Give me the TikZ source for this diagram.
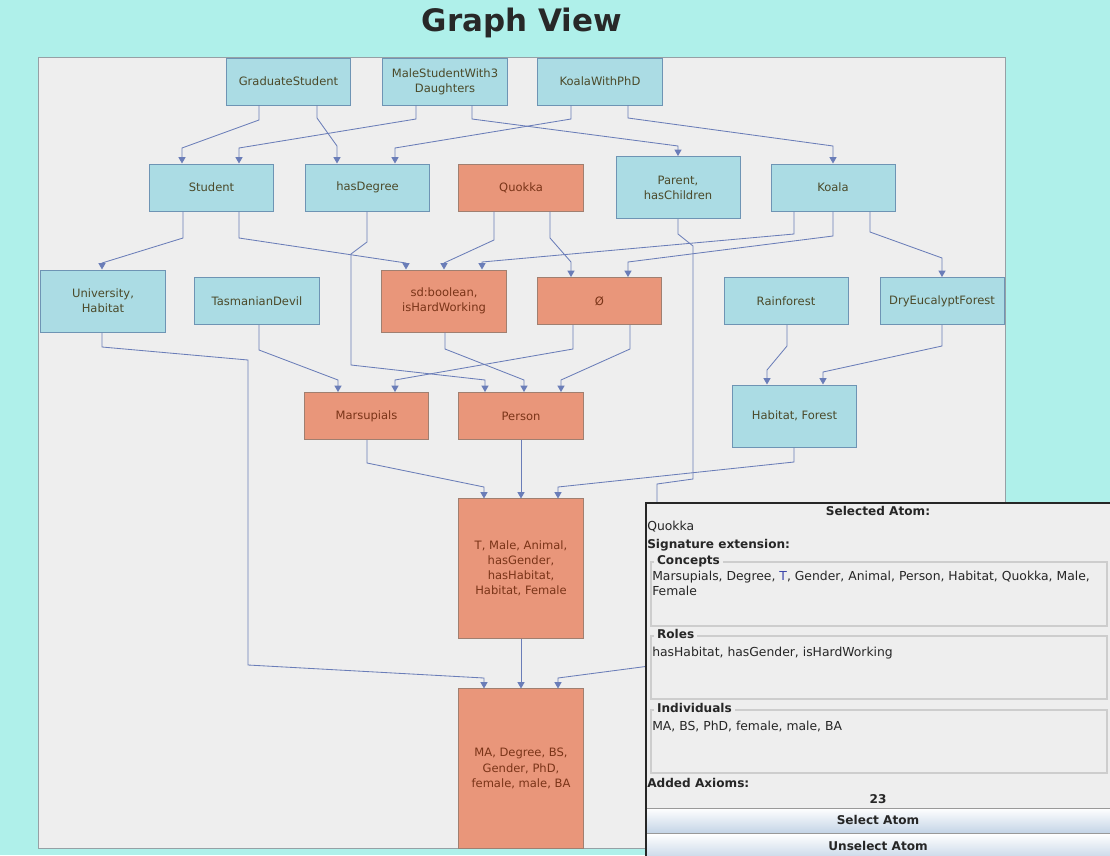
\documentclass[tikz,border=0pt]{standalone}
\usepackage{fontspec}
\setmainfont{DejaVu Sans}
\usetikzlibrary{arrows.meta}
\definecolor{bgcyan}{RGB}{175,240,234}
\definecolor{panelgray}{RGB}{238,238,238}
\definecolor{panelborder}{RGB}{150,160,165}
\definecolor{nodeblue}{RGB}{171,220,228}
\definecolor{blueborder}{RGB}{110,148,180}
\definecolor{nodeorange}{RGB}{233,150,122}
\definecolor{orangeborder}{RGB}{160,127,112}
\definecolor{bluetext}{RGB}{75,74,42}
\definecolor{orangetext}{RGB}{122,52,24}
\definecolor{edgecol}{RGB}{106,125,184}
\definecolor{sectline}{RGB}{205,205,205}
\definecolor{btnblue}{RGB}{196,212,230}
\definecolor{tblue}{RGB}{60,70,170}

\begin{document}
\begin{tikzpicture}[x=0.025cm, y=-0.025cm]
\useasboundingbox (0,0) rectangle (1110,855);
\fill [bgcyan] (0,0) rectangle (1110,855);
\filldraw [fill=panelgray, draw=panelborder, line width=0.6pt] (38,57) rectangle (1005,848);
\node (title) at (522,23) {\fontsize{22}{24}\selectfont\bfseries\color[RGB]{40,40,40}Graph View};

\tikzset{every node/.style={inner sep=0pt, align=center, minimum width=3.1cm, minimum height=1.175cm, font=\fontsize{8.2}{10.8}\selectfont}}
\tikzset{bluebox/.style={fill=nodeblue, draw=blueborder, line width=0.7pt, text=bluetext}}
\tikzset{orangebox/.style={fill=nodeorange, draw=orangeborder, line width=0.7pt, text=orangetext}}
\node [bluebox] (gs) at (288.5,81.5) {GraduateStudent};
\node [bluebox] (msd) at (445,81.5) {MaleStudentWith3\\Daughters};
\node [bluebox] (kwp) at (600,81.5) {KoalaWithPhD};
\node [bluebox] (st) at (211.5,187.5) {Student};
\node [bluebox] (hd) at (367.5,187.5) {hasDegree};
\node [orangebox] (qk) at (521,187.5) {Quokka};
\node [bluebox, minimum height=1.55cm] (par) at (678,187.5) {Parent,\\hasChildren};
\node [bluebox] (ko) at (833,187.5) {Koala};
\node [bluebox, minimum height=1.55cm] (uni) at (103,301) {University,\\Habitat};
\node [bluebox] (tas) at (257,301) {TasmanianDevil};
\node [orangebox, minimum height=1.55cm] (sdb) at (444,301) {sd:boolean,\\isHardWorking};
\node [orangebox] (emp) at (599.5,301) {Ø};
\node [bluebox] (rain) at (786,301) {Rainforest};
\node [bluebox] (dry) at (942,301) {DryEucalyptForest};
\node [orangebox] (mars) at (366.5,416) {Marsupials};
\node [orangebox] (per) at (521,416) {Person};
\node [bluebox, minimum height=1.55cm] (hf) at (794.5,416) {Habitat, Forest};
\node [orangebox, minimum height=3.475cm] (tb) at (521,568.5) {T, Male, Animal,\\hasGender,\\hasHabitat,\\Habitat, Female};
\node [orangebox, minimum height=3.975cm] (ma) at (521,768.5) {MA, Degree, BS,\\Gender, PhD,\\female, male, BA};

\tikzset{mystyle/.style={-{Triangle[width=5pt,length=4.5pt]}, draw=edgecol, line width=0.6pt}}
\draw [mystyle] (gs.south -| 259,0) -- (259,120) -- (182,148) -- (st.north -| 182,0);
\draw [mystyle] (gs.south -| 317,0) -- (317,118) -- (337,146) -- (hd.north -| 337,0);
\draw [mystyle] (msd.south -| 416,0) -- (416,119) -- (239,148) -- (st.north -| 239,0);
\draw [mystyle] (msd.south -| 472,0) -- (472,119) -- (678,146) -- (par.north -| 678,0);
\draw [mystyle] (kwp.south -| 571,0) -- (571,119) -- (395,148) -- (hd.north -| 395,0);
\draw [mystyle] (kwp.south -| 628,0) -- (628,118) -- (833,146) -- (ko.north -| 833,0);

\draw [mystyle] (st.south -| 183,0) -- (183,238) -- (102,263) -- (uni.north -| 102,0);
\draw [mystyle] (st.south -| 239,0) -- (239,238) -- (406,263) -- (sdb.north -| 406,0);
\draw [mystyle] (hd.south -| 367,0) -- (367,242) -- (351,254) -- (351,365) -- (485,380) -- (per.north -| 485,0);
\draw [mystyle] (qk.south -| 494,0) -- (494,240) -- (444,263) -- (sdb.north -| 444,0);
\draw [mystyle] (qk.south -| 550,0) -- (550,238) -- (571,262) -- (emp.north -| 571,0);
\draw [mystyle] (ko.south -| 794,0) -- (794,234) -- (482,262) -- (sdb.north -| 482,0);
\draw [mystyle] (ko.south -| 833,0) -- (833,236) -- (628,262) -- (emp.north -| 628,0);
\draw [mystyle] (ko.south -| 870,0) -- (870,232) -- (942,258) -- (dry.north -| 942,0);
\draw [mystyle] (par.south -| 678,0) -- (678,234) -- (693,246) -- (693,479) -- (657,484) -- (657,665) -- (558,678) -- (ma.north -| 558,0);

\draw [mystyle] (uni.south -| 102,0) -- (102,347) -- (248,360) -- (248,665) -- (484,678) -- (ma.north -| 484,0);
\draw [mystyle] (tas.south -| 259,0) -- (259,350) -- (338,380) -- (mars.north -| 338,0);
\draw [mystyle] (sdb.south -| 445,0) -- (445,349) -- (524,380) -- (per.north -| 524,0);
\draw [mystyle] (emp.south -| 573,0) -- (573,349) -- (395,380) -- (mars.north -| 395,0);
\draw [mystyle] (emp.south -| 630,0) -- (630,349) -- (561,380) -- (per.north -| 561,0);
\draw [mystyle] (rain.south -| 787,0) -- (787,346) -- (767,370) -- (hf.north -| 767,0);
\draw [mystyle] (dry.south -| 942,0) -- (942,346) -- (823,372) -- (hf.north -| 823,0);

\draw [mystyle] (mars.south -| 367,0) -- (367,463) -- (484,487) -- (tb.north -| 484,0);
\draw [mystyle] (per) -- (tb);
\draw [mystyle] (hf.south -| 794,0) -- (794,462) -- (558,487) -- (tb.north -| 558,0);
\draw [mystyle] (tb) -- (ma);

\tikzset{every node/.style={inner sep=0pt, font=\fontsize{8.8}{10.7}\selectfont, text=black!85}}
\tikzset{infobold/.style={font=\fontsize{8.6}{10.7}\selectfont\bfseries}}
\tikzset{sectitle/.style={infobold, fill=panelgray, inner xsep=2pt, anchor=mid west}}
\filldraw [fill=panelgray, draw=black!85, line width=1pt] (646,503) rectangle (1114,860);
\draw [sectline, line width=0.8pt] (651,562) rectangle (1107,626);
\draw [sectline, line width=0.8pt] (651,636) rectangle (1107,699);
\draw [sectline, line width=0.8pt] (651,710) rectangle (1107,773);
\node [infobold] (selatom) at (878,511) {Selected Atom:};
\node [anchor=mid west] (quokka) at (647,527) {Quokka};
\node [infobold, anchor=mid west] (sigext) at (647,545) {Signature extension:};
\node [sectitle] (concepts) at (654,561) {Concepts};
\node [anchor=north west, align=left] (conlist) at (652,571) {Marsupials, Degree, \textcolor{tblue}{T}, Gender, Animal, Person, Habitat, Quokka, Male,\\Female};
\node [sectitle] (roles) at (654,635) {Roles};
\node [anchor=mid west] (rolelist) at (652,653) {hasHabitat, hasGender, isHardWorking};
\node [sectitle] (indiv) at (654,709) {Individuals};
\node [anchor=mid west] (indlist) at (652,727) {MA, BS, PhD, female, male, BA};
\node [infobold, anchor=mid west] (added) at (647,784) {Added Axioms:};
\node [infobold] (count) at (878,799) {23};
\shade [top color=white, bottom color=btnblue] (647,808) rectangle (1112,833);
\draw [black!40, line width=0.6pt] (647,808) -- (1112,808) (647,833) -- (1112,833);
\shade [top color=white, bottom color=btnblue] (647,834) rectangle (1112,860);
\node [infobold] (selbtn) at (878,820) {Select Atom};
\node [infobold] (unselbtn) at (878,846) {Unselect Atom};
\end{tikzpicture}
\end{document}
